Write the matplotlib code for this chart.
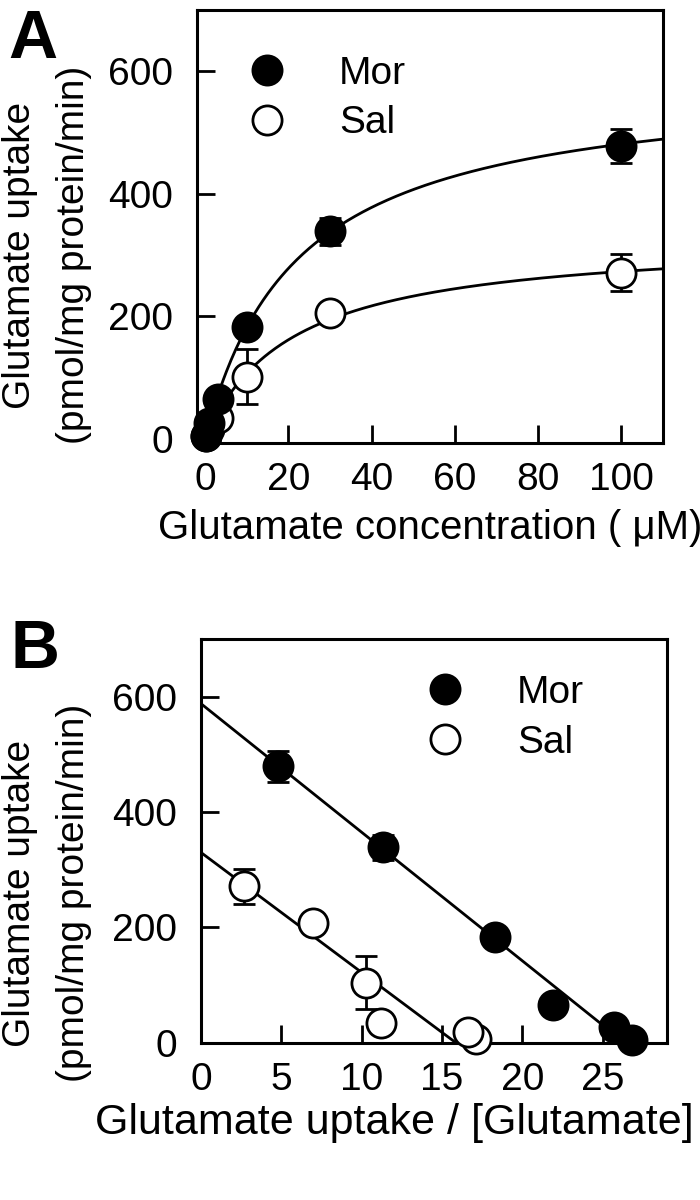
import numpy as np
import matplotlib.pyplot as plt

plt.rcParams['font.family'] = ['Liberation Sans', 'DejaVu Sans']

# panel A: uptake vs concentration
conc = [0.3, 1, 3, 10, 30, 100]
mor_v = [5, 26, 66, 183, 339, 478]
mor_err = [0, 0, 0, 0, 22, 28]
sal_v = [5, 17, 34, 102, 206, 271]
sal_err = [0, 0, 0, 45, 0, 30]

# panel B: Eadie-Hofstee
mor_bx = [26.8, 25.7, 21.9, 18.3, 11.3, 4.8]
mor_by = [4, 27, 66, 183, 339, 479]
mor_berr = [0, 0, 0, 0, 22, 27]
sal_bx = [17.1, 16.6, 11.2, 10.3, 7.0, 2.7]
sal_by = [7, 19, 34, 104, 207, 271]
sal_berr = [0, 0, 0, 46, 0, 30]

# fitted kinetic parameters
mor_vmax, mor_km = 588, 22.3
sal_vmax, sal_km = 330, 20.8

fs = 28
ms = 21
mew = 2

fig = plt.figure(figsize=(7, 12), dpi=100)
axA = fig.add_axes([0.281, 0.631, 0.666, 0.361])
axB = fig.add_axes([0.287, 0.131, 0.666, 0.3365])


def draw_points(ax, x, y, err, filled, label):
	x = np.array(x)
	y = np.array(y)
	err = np.array(err)
	m = err > 0
	ax.errorbar(x[m], y[m], yerr=err[m], fmt='none', ecolor='k',
		elinewidth=2, capsize=8, capthick=2, zorder=2)
	ax.plot(x, y, 'o', ms=ms, mew=mew, mec='k',
		mfc='k' if filled else 'w', label=label, zorder=3, clip_on=False)


def style(ax):
	for s in ax.spines.values():
		s.set_linewidth(2.2)
	ax.tick_params(direction='in', length=13, width=2, labelsize=fs,
		top=False, right=False)
	ax.tick_params(axis='x', pad=14)
	ax.tick_params(axis='y', pad=17)


# --- A ---
xs = np.linspace(0, 110, 300)
axA.plot(xs, mor_vmax * xs / (mor_km + xs), 'k-', lw=2)
axA.plot(xs, sal_vmax * xs / (sal_km + xs), 'k-', lw=2)
draw_points(axA, conc, sal_v, sal_err, False, 'Sal')
draw_points(axA, conc, mor_v, mor_err, True, 'Mor')
axA.set_xlim(-2, 110)
axA.set_ylim(-6, 700)
axA.set_xticks([0, 20, 40, 60, 80, 100])
axA.set_yticks([0, 200, 400, 600])
style(axA)
axA.set_xlabel('Glutamate concentration ( μM)', fontsize=29, labelpad=8)
h, l = axA.get_legend_handles_labels()
axA.legend(h[::-1], l[::-1], loc='upper left', bbox_to_anchor=(0.068, 0.894),
	frameon=False, fontsize=fs, borderpad=0, borderaxespad=0,
	handlelength=2.0, handletextpad=0.85, labelspacing=0.35, numpoints=1)

# --- B ---
mx = np.linspace(0, mor_vmax / mor_km, 50)
sx = np.linspace(0, sal_vmax / sal_km, 50)
axB.plot(mx, mor_vmax - mor_km * mx, 'k-', lw=2)
axB.plot(sx, sal_vmax - sal_km * sx, 'k-', lw=2)
draw_points(axB, sal_bx, sal_by, sal_berr, False, 'Sal')
draw_points(axB, mor_bx, mor_by, mor_berr, True, 'Mor')
axB.set_xlim(0, 29)
axB.set_ylim(0, 700)
axB.set_xticks([0, 5, 10, 15, 20, 25])
axB.set_yticks([0, 200, 400, 600])
style(axB)
axB.set_xlabel('Glutamate uptake / [Glutamate]', fontsize=31)
axB.xaxis.set_label_coords(0.416, -0.15)
h, l = axB.get_legend_handles_labels()
axB.legend(h[::-1], l[::-1], loc='upper left', bbox_to_anchor=(0.44, 0.911),
	frameon=False, fontsize=fs, borderpad=0, borderaxespad=0,
	handlelength=2.0, handletextpad=0.85, labelspacing=0.35, numpoints=1)

# y labels (two lines each) and panel letters
for yc in [255, 893]:
	fig.text(20 / 700, 1 - yc / 1200, 'Glutamate uptake', rotation=90,
		ha='center', va='center', fontsize=28)
	fig.text(74 / 700, 1 - yc / 1200, '(pmol/mg protein/min)', rotation=90,
		ha='center', va='center', fontsize=28)
fig.text(0.012, 1 - 8 / 1200, 'A', fontsize=49, fontweight='bold', va='top')
fig.text(0.015, 1 - 618 / 1200, 'B', fontsize=49, fontweight='bold', va='top')

fig.savefig('out.png', dpi=100)
